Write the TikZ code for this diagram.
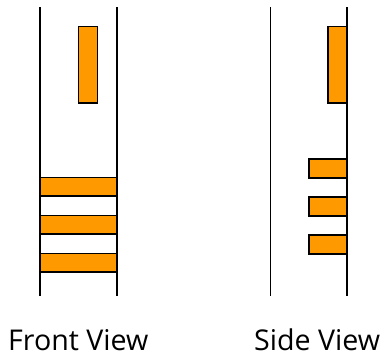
\documentclass[tikz,border=0pt]{standalone}
\usepackage{fontspec}
\setmainfont{Open Sans}
\definecolor{barorange}{RGB}{255,153,0}
\tikzset{
  rail/.style={line width=1.7pt,black},
  bar/.style={draw=black,line width=1.7pt,fill=barorange},
  caption/.style={inner sep=0pt,anchor=base west,font=\fontsize{28.6}{32}\selectfont}
}
\begin{document}
\begin{tikzpicture}[x=1pt,y=-1pt]
\useasboundingbox (0,0) rectangle (383,356);
\fill[white] (0,0) rectangle (383,356);
% front view
\draw[bar] (78.5,26.5) rectangle (97.5,103);
\draw[bar] (40,177.5) rectangle (117,196);
\draw[bar] (40,215.5) rectangle (117,234);
\draw[bar] (40,253.5) rectangle (117,272);
\draw[rail] (40,7) -- (40,296);
\draw[rail] (117,7) -- (117,296);
% side view
\draw[bar] (328,26.5) rectangle (347,103);
\draw[bar] (309,159) rectangle (347,178);
\draw[bar] (309,197) rectangle (347,216);
\draw[bar] (309,235) rectangle (347,254);
\draw[rail] (270.4,7) -- (270.4,296);
\draw[rail] (347,7) -- (347,296);
\node[caption] (front) at (8,350) {Front View};
\node[caption] (side) at (254,350) {Side View};
\end{tikzpicture}
\end{document}
